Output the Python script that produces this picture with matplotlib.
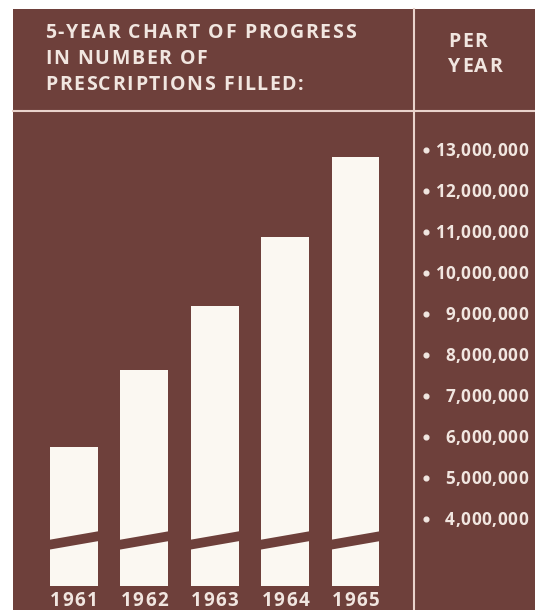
import matplotlib
matplotlib.use('Agg')
import matplotlib.pyplot as plt
from matplotlib.patches import Rectangle, Polygon
from matplotlib.lines import Line2D
from matplotlib.transforms import IdentityTransform
import numpy as np

# ---- data ----
years = ['1961', '1962', '1963', '1964', '1965']
prescriptions_millions = [5.76, 7.63, 9.20, 10.88, 12.83]
tick_values = [13, 12, 11, 10, 9, 8, 7, 6, 5, 4]
tick_labels = ['13,000,000', '12,000,000', '11,000,000', '10,000,000',
               '9,000,000', '8,000,000', '7,000,000', '6,000,000',
               '5,000,000', '4,000,000']
title_lines = ['5-YEAR CHART OF PROGRESS', 'IN NUMBER OF', 'PRESCRIPTIONS FILLED:']
column_header = ['PER', 'YEAR']

# ---- style ----
MAROON = '#6E403B'
BAR = '#FBF8F2'
TEXT = '#F1E6E0'
LINE = '#E9D3CC'
FONT = 'Open Sans'

W, H = 535, 610
fig = plt.figure(figsize=(W / 100, H / 100), dpi=100)
fig.patch.set_facecolor('white')
renderer = fig.canvas.get_renderer()


def fx(px):
    return px / W


def fy(py):
    return 1 - py / H


def text_width(s, **kw):
    t = fig.text(0, 0, s, **kw)
    w = t.get_window_extent(renderer).width
    t.remove()
    return w


def spaced_text(xd, yd, s, spacing, ha='left', **kw):
    """Draw text with extra letter spacing at display pixel (xd, yd), baseline."""
    base = text_width('HH', **kw)
    offs = [text_width('H' + s[:k] + 'H', **kw) - base + k * spacing for k in range(len(s))]
    total = text_width('H' + s + 'H', **kw) - base + (len(s) - 1) * spacing
    if ha == 'center':
        x0 = xd - total / 2
    elif ha == 'right':
        x0 = xd - total
    else:
        x0 = xd
    for ch, o in zip(s, offs):
        if ch != ' ':
            fig.text(x0 + o, yd, ch, transform=IdentityTransform(), ha='left',
                     va='baseline', zorder=6, **kw)


# panel background
fig.patches.append(Rectangle((fx(13), 0), 1 - fx(13), fy(9), transform=fig.transFigure,
                             facecolor=MAROON, edgecolor='none', zorder=0))
# separator lines
fig.add_artist(Line2D([fx(13), 1], [fy(111), fy(111)], transform=fig.transFigure,
                      color=LINE, lw=1.5, zorder=1))
fig.add_artist(Line2D([fx(413.5), fx(413.5)], [fy(9), 0], transform=fig.transFigure,
                      color=LINE, lw=1.5, zorder=1))

hdr_kw = dict(color=TEXT, fontsize=14, fontweight='bold', family=FONT)
for i, line in enumerate(title_lines):
    spaced_text(45, H - (37.5 + 26 * i), line, 1.6, **hdr_kw)
for i, line in enumerate(column_header):
    spaced_text(448, H - (47 + 24.5 * i), line, 1.6, **hdr_kw)

# chart axes: layout constants (pixel of 13M, pixels per million)
y13_px, ppm = 150.0, 41.0
ax_top_px, ax_bot_px = 112.0, 586.0
ax = fig.add_axes([fx(13), fy(ax_bot_px), 1 - fx(13), fy(ax_top_px) - fy(ax_bot_px)])
ax.set_zorder(3)
ax.set_facecolor('none')
y_top = 13 + (y13_px - ax_top_px) / ppm
y_bot = 13 - (ax_bot_px - y13_px) / ppm
ax.set_ylim(y_bot, y_top)
ax.set_xlim(-0.866, 6.549)
for s in ax.spines.values():
    s.set_visible(False)
ax.set_xticks([])
ax.set_yticks([])

x = np.arange(len(years))
bw = 0.68
vals = np.array(prescriptions_millions)
ax.bar(x, vals - y_bot, bottom=y_bot, width=bw, color=BAR, edgecolor='none', zorder=2)

# slanted axis-break band across each bar
brk_left, brk_right, brk_half = 3.37, 3.585, 0.12
for xi in x:
    l, r = xi - bw / 2 - 0.02, xi + bw / 2 + 0.02
    ax.add_patch(Polygon([(l, brk_left - brk_half), (r, brk_right - brk_half),
                          (r, brk_right + brk_half), (l, brk_left + brk_half)],
                         closed=True, facecolor=MAROON, edgecolor='none', zorder=3))

# year labels under the bars
yr_kw = dict(color=TEXT, fontsize=13.5, fontweight='bold', family=FONT)
for xi, yr in zip(x, years):
    xd = ax.transData.transform((xi, y_bot))[0]
    spaced_text(xd, H - 605.5, yr, 1.5, ha='center', **yr_kw)

# value scale on the right
tr = ax.get_yaxis_transform()
bx = (426 - 13) / (W - 13)
lx = (528 - 13) / (W - 13)
ax.plot([bx] * len(tick_values), tick_values, 'o', ms=3.4, color=TEXT,
        transform=tr, clip_on=False, zorder=4)
tk_kw = dict(color=TEXT, fontsize=12.3, fontweight='bold', family=FONT)
for v, lab in zip(tick_values, tick_labels):
    xd, yd = tr.transform((lx, v))
    spaced_text(xd, yd - 6, lab, 0.5, ha='right', **tk_kw)

fig.savefig('out.png', dpi=100, facecolor='white')
